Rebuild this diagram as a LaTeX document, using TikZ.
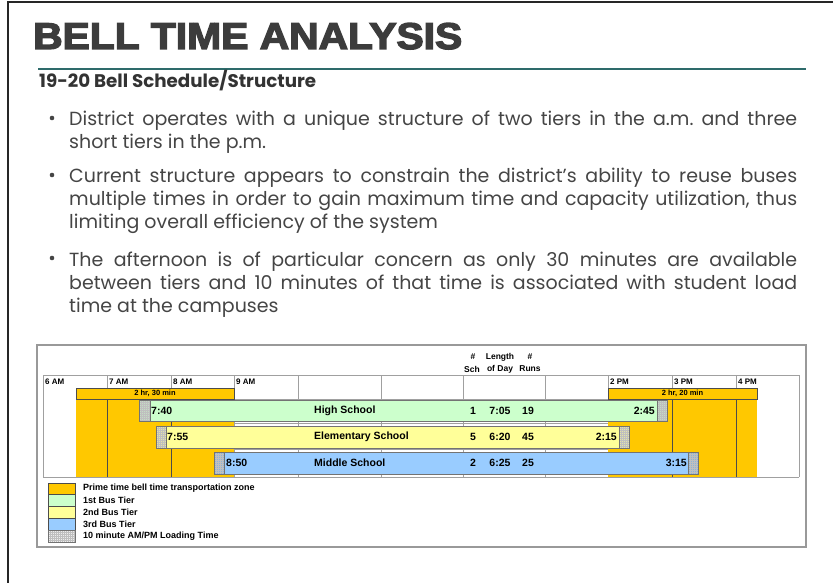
\documentclass[tikz,border=0pt]{standalone}
\usepackage{fontspec}
\usepackage{graphicx}
\setmainfont{Poppins}
\newfontfamily\arialf{Liberation Sans}
\newfontfamily\titlef[BoldFeatures={FakeBold=3.5}]{Liberation Sans}
\newfontfamily\bodyf{Poppins}
\frenchspacing
\definecolor{bodygray}{HTML}{454545}
\definecolor{titlegray}{HTML}{3C3C3C}
\definecolor{tealline}{HTML}{2E6B6B}
\definecolor{primeor}{HTML}{FFC800}
\definecolor{tierA}{HTML}{CCFFCC}
\definecolor{tierB}{HTML}{FFFF99}
\definecolor{tierC}{HTML}{99CCFF}
\definecolor{loadA}{HTML}{C4DCC4}
\definecolor{loadB}{HTML}{E4E4A8}
\definecolor{loadC}{HTML}{8CB2D8}
\definecolor{loadL}{HTML}{EDEDED}
\definecolor{gridg}{HTML}{A0A0A0}
\newsavebox\jbox
\newcommand\jline[1]{\sbox\jbox{#1}\ifdim\wd\jbox>728bp\resizebox{728bp}{\height}{#1}\else\makebox[728bp][s]{#1}\fi}
\newcommand\ldbox[5]{%
  \fill[#5] (#1,#2) rectangle (#3,#4);
  \pgfmathtruncatemacro\nx{(#3-#1)/2}
  \pgfmathtruncatemacro\ny{(#4-#2)/2}
  \foreach \i in {1,...,\nx} \draw[gray!50, line width=0.3bp] ({#1+2*\i},#2) -- ({#1+2*\i},#4);
  \foreach \j in {1,...,\ny} \draw[gray!50, line width=0.3bp] (#1,{#2+2*\j}) -- (#3,{#2+2*\j});
  \draw[gray!90!black, line width=0.6bp] (#1,#2) rectangle (#3,#4);
}
\tikzset{
  body/.style={font=\bodyf\fontsize{19bp}{23bp}\selectfont, text=bodygray, inner sep=0, anchor=base west},
  hrlab/.style={font=\arialf\bfseries\fontsize{8bp}{9bp}\selectfont, inner sep=0, anchor=west},
  durlab/.style={font=\arialf\bfseries\fontsize{7.5bp}{9bp}\selectfont, inner sep=0},
  bartxt/.style={font=\arialf\bfseries\fontsize{10.5bp}{12bp}\selectfont, inner sep=0},
  hdrtxt/.style={font=\arialf\bfseries\fontsize{8.5bp}{10bp}\selectfont, inner sep=0},
  legtxt/.style={font=\arialf\bfseries\fontsize{9bp}{10bp}\selectfont, inner sep=0, anchor=west},
  gridl/.style={draw=gridg, line width=0.8bp},
  barline/.style={draw=gray!90!black, line width=0.7bp},
  darkl/.style={draw=black!70, line width=0.7bp},
}
\begin{document}
\begin{tikzpicture}[x=1bp, y=-1bp]
\useasboundingbox (0,0) rectangle (833,583);
\fill[white] (0,0) rectangle (833,583);
% slide frame
\draw[black!85, line width=1.6bp] (833,2) -- (8,2) -- (8,583);
% title
\node[inner sep=0, anchor=base west, text=titlegray] (title) at (33,49)
  {\resizebox{429bp}{26bp}{\titlef\bfseries BELL TIME ANALYSIS}};
\draw[tealline, line width=1.4bp] (38,69) -- (806,69);
\node[inner sep=0, anchor=base west, text=black!80] (subtitle) at (39,88)
  {\resizebox{277bp}{!}{\bodyf\bfseries\fontsize{17bp}{20bp}\selectfont 19-20 Bell Schedule/Structure}};
% bullets
\fill[bodygray] (52,118) circle (2.3);
\fill[bodygray] (52,175) circle (2.3);
\fill[bodygray] (52,258) circle (2.3);
\node[body] (p1a) at (69,126) {\jline{District operates with a unique structure of two tiers in the a.m. and three}};
\node[body] (p1b) at (69,149) {short tiers in the p.m.};
\node[body] (p2a) at (69,183) {\jline{Current structure appears to constrain the district’s ability to reuse buses}};
\node[body] (p2b) at (69,206) {\jline{multiple times in order to gain maximum time and capacity utilization, thus}};
\node[body] (p2c) at (69,229) {limiting overall efficiency of the system};
\node[body] (p3a) at (69,266) {\jline{The afternoon is of particular concern as only 30 minutes are available}};
\node[body] (p3b) at (69,289) {\jline{between tiers and 10 minutes of that time is associated with student load}};
\node[body] (p3c) at (69,312) {time at the campuses};
% chart frame
\draw[gray!80, line width=1.3bp] (37,345) rectangle (806,547);
% header labels above grid
\node[hdrtxt] (h1) at (473,357) {\#};
\node[hdrtxt] (h2) at (500,357) {Length};
\node[hdrtxt] (h3) at (530,357) {\#};
\node[hdrtxt] (h4) at (472,369) {Sch};
\node[hdrtxt] (h5) at (500,369) {of Day};
\node[hdrtxt] (h6) at (530,369) {Runs};
% grid
\foreach \xx in {43,107,171,234,298,381,463,545,608,672,736,799}
  \draw[gridl] (\xx,375) -- (\xx,477);
\draw[gridl] (43,375) -- (799,375);
\draw[gridl] (43,477) -- (799,477);
\foreach \yy in {399,423,449}
  \draw[gridl] (234,\yy) -- (608,\yy);
% hour labels
\node[hrlab] (t6) at (45,382) {6 AM};
\node[hrlab] (t7) at (109,382) {7 AM};
\node[hrlab] (t8) at (173,382) {8 AM};
\node[hrlab] (t9) at (236,382) {9 AM};
\node[hrlab] (t14) at (610,382) {2 PM};
\node[hrlab] (t15) at (674,382) {3 PM};
\node[hrlab] (t16) at (738,382) {4 PM};
% prime time zones
\fill[primeor] (76,388) rectangle (234,477);
\fill[primeor] (608,388) rectangle (757,477);
\draw[darkl] (107,399) -- (107,477);
\draw[darkl] (171,399) -- (171,477);
\draw[darkl] (672,399) -- (672,477);
\draw[darkl] (736,399) -- (736,477);
\draw[darkl, fill=primeor] (76,388) rectangle (234,399);
\draw[darkl, fill=primeor] (608,388) rectangle (757,399);
\node[durlab] (dam) at (155,393.5) {2 hr, 30 min};
\node[durlab] (dpm) at (682.5,393.5) {2 hr, 20 min};
% bars
\draw[barline, fill=tierA] (139,400) rectangle (667,421);
\ldbox{139}{400}{150}{421}{loadA}
\ldbox{657}{400}{667}{421}{loadA}
\draw[barline, fill=tierB] (156,426) rectangle (629,448);
\ldbox{156}{426}{166}{448}{loadB}
\ldbox{619}{426}{629}{448}{loadB}
\draw[barline, fill=tierC] (214,452) rectangle (698,474);
\ldbox{214}{452}{224}{474}{loadC}
\ldbox{688}{452}{698}{474}{loadC}
% bar texts
\node[bartxt, anchor=west] (hsin) at (151,410.5) {7:40};
\node[bartxt, anchor=east] (hsout) at (655,410.5) {2:45};
\node[bartxt, anchor=west] (hsname) at (314,410.5) {High School};
\node[bartxt] (hsn) at (473,410.5) {1};
\node[bartxt] (hsl) at (500,410.5) {7:05};
\node[bartxt] (hsr) at (528,410.5) {19};
\node[bartxt, anchor=west] (esin) at (167,437) {7:55};
\node[bartxt, anchor=east] (esout) at (617,437) {2:15};
\node[bartxt, anchor=west] (esname) at (314,437) {Elementary School};
\node[bartxt] (esn) at (473,437) {5};
\node[bartxt] (esl) at (500,437) {6:20};
\node[bartxt] (esr) at (528,437) {45};
\node[bartxt, anchor=west] (msin) at (226,463) {8:50};
\node[bartxt, anchor=east] (msout) at (687,463) {3:15};
\node[bartxt, anchor=west] (msname) at (314,463) {Middle School};
\node[bartxt] (msn) at (473,463) {2};
\node[bartxt] (msl) at (500,463) {6:25};
\node[bartxt] (msr) at (528,463) {25};
% legend
\draw[darkl, fill=primeor] (48,483) rectangle (75,494);
\draw[darkl, fill=tierA] (48,494) rectangle (75,506);
\draw[darkl, fill=tierB] (48,506) rectangle (75,518);
\draw[darkl, fill=tierC] (48,518) rectangle (75,530);
\ldbox{48}{530}{75}{542}{loadL}
\node[legtxt] (l1) at (83,488.5) {Prime time bell time transportation zone};
\node[legtxt] (l2) at (83,500) {1st Bus Tier};
\node[legtxt] (l3) at (83,512) {2nd Bus Tier};
\node[legtxt] (l4) at (83,524) {3rd Bus Tier};
\node[legtxt] (l5) at (83,536) {10 minute AM/PM Loading Time};
\end{tikzpicture}
\end{document}
